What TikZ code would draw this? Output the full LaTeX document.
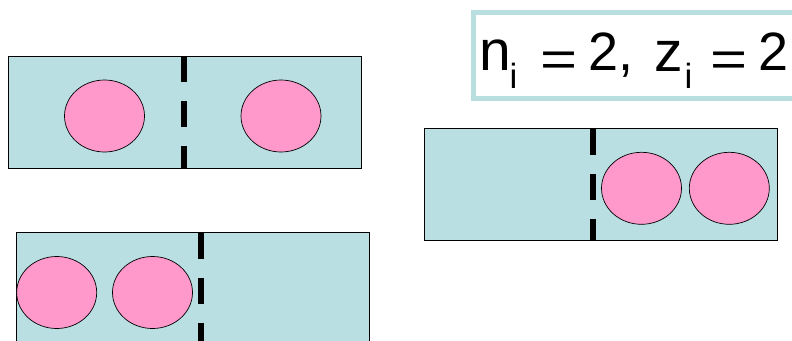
\documentclass[tikz,border=0pt]{standalone}
\usepackage{graphicx}
\usepackage{fontspec}
\setmainfont{Liberation Sans}
\usetikzlibrary{shapes.geometric}
\definecolor{boxblue}{HTML}{B9DFE2}
\definecolor{ballpink}{HTML}{FF99CC}
\definecolor{frameblue}{HTML}{B8DEE0}
\tikzset{
  cellbox/.style={draw=black, fill=boxblue, line width=0.9pt},
  ball/.style={ellipse, draw=black, fill=ballpink, line width=0.7pt, minimum width=80, minimum height=72, inner sep=0pt},
  wall/.style={draw=black, line width=6pt, dash pattern=on 26pt off 19pt},
  labelframe/.style={draw=frameblue, fill=white, line width=5pt},
  bigtxt/.style={inner sep=0pt, anchor=base west, font=\fontsize{54}{60}\selectfont},
  vartxt/.style={inner sep=0pt, anchor=base west, font=\fontsize{57}{62}\selectfont},
  subtxt/.style={inner sep=0pt, anchor=base west, font=\fontsize{35}{38}\selectfont},
  eqtxt/.style={inner sep=0pt, anchor=base west, font=\fontsize{50}{56}\selectfont}
}
\begin{document}
\begin{tikzpicture}[x=1pt,y=-1pt]
\useasboundingbox (0,0) rectangle (792,340);
% box 1 (top left)
\draw[cellbox] (8,56) rectangle (361,168);
\coordinate (w1t) at (184,56);
\coordinate (w1b) at (184,168);
\draw[wall] (w1t) -- (w1b);
\node[ball] (a1) at (104.5,116) {};
\node[ball] (a2) at (281,116) {};
% box 2 (bottom left)
\draw[cellbox] (16,232.5) rectangle (369,360);
\coordinate (w2t) at (200.5,232.5);
\coordinate (w2b) at (200.5,345);
\draw[wall] (w2t) -- (w2b);
\node[ball] (b1) at (56.7,292.5) {};
\node[ball] (b2) at (152.5,292.5) {};
% box 3 (right)
\draw[cellbox] (424.5,128.5) rectangle (777.5,240.3);
\coordinate (w3t) at (593.3,128.5);
\coordinate (w3b) at (593.3,240.3);
\draw[wall] (w3t) -- (w3b);
\node[ball] (c1) at (641.5,188.3) {};
\node[ball] (c2) at (729.3,188.3) {};
% label
\draw[labelframe] (473.5,12.5) rectangle (805,98.5);
\node[vartxt] (n) at (479,70) {n};
\node[subtxt] (ni) at (509.5,88) {i};
\node[eqtxt] (eq1) at (539.8,76) {\scalebox{1.27}[1]{=}};
\node[bigtxt] (two1) at (588,70) {2,};
\node[vartxt] (z) at (654,71) {z};
\node[subtxt] (zi) at (684.5,88) {i};
\node[eqtxt] (eq2) at (709.8,76) {\scalebox{1.27}[1]{=}};
\node[bigtxt] (two2) at (758.4,70) {2};
\end{tikzpicture}
\end{document}
